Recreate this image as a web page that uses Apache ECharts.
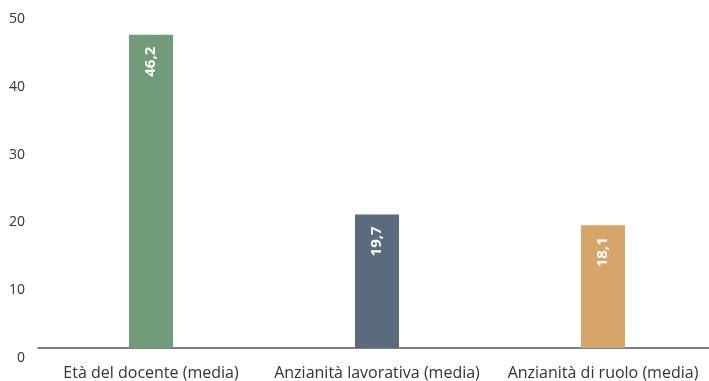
<!DOCTYPE html>
<html>
<head>
<meta charset="utf-8">
<script src="https://cdn.jsdelivr.net/npm/echarts@6/dist/echarts.min.js"></script>
<style>
  html, body { margin: 0; padding: 0; background: #ffffff; }
  #chart { width: 709px; height: 381px; }
</style>
</head>
<body>
<div id="chart"></div>
<script>
// Valori medi dei docenti
const categories = ['Età del docente (media)', 'Anzianità lavorativa (media)', 'Anzianità di ruolo (media)'];
const values = [46.2, 19.7, 18.1];
const barColors = ['#719b79', '#5b6b7e', '#d7a46a'];
const yTicks = [0, 10, 20, 30, 40, 50];

const FONT = '"Open Sans", "Noto Sans", sans-serif';

const chart = echarts.init(document.getElementById('chart'), null, { renderer: 'canvas' });

chart.setOption({
  animation: false,
  backgroundColor: '#ffffff',
  grid: { left: 38, width: 678, top: 9, height: 339, outerBoundsMode: 'none' },
  xAxis: {
    type: 'category',
    data: categories,
    axisLine: { show: true, lineStyle: { color: '#555555', width: 1.5 } },
    axisTick: { show: false },
    axisLabel: {
      interval: 0,
      color: '#333333',
      fontFamily: FONT,
      fontSize: 16,
      margin: 17
    }
  },
  yAxis: {
    type: 'value',
    min: yTicks[0],
    max: yTicks[yTicks.length - 1],
    interval: yTicks[1] - yTicks[0],
    axisLine: { show: false },
    axisTick: { show: false },
    splitLine: { show: false },
    axisLabel: {
      color: '#333333',
      fontFamily: FONT,
      fontSize: 14,
      margin: 13,
      verticalAlign: 'top',
      padding: [3, 0, 0, 0]
    }
  },
  series: [{
    type: 'bar',
    barWidth: 44,
    data: values.map((v, i) => ({ value: v, itemStyle: { color: barColors[i] } })),
    label: {
      show: true,
      position: 'insideTop',
      distance: 12,
      rotate: 90,
      align: 'right',
      verticalAlign: 'middle',
      color: '#ffffff',
      fontFamily: FONT,
      fontWeight: 'bold',
      fontSize: 15,
      formatter: p => String(p.value).replace('.', ',')
    }
  }]
});
</script>
</body>
</html>
